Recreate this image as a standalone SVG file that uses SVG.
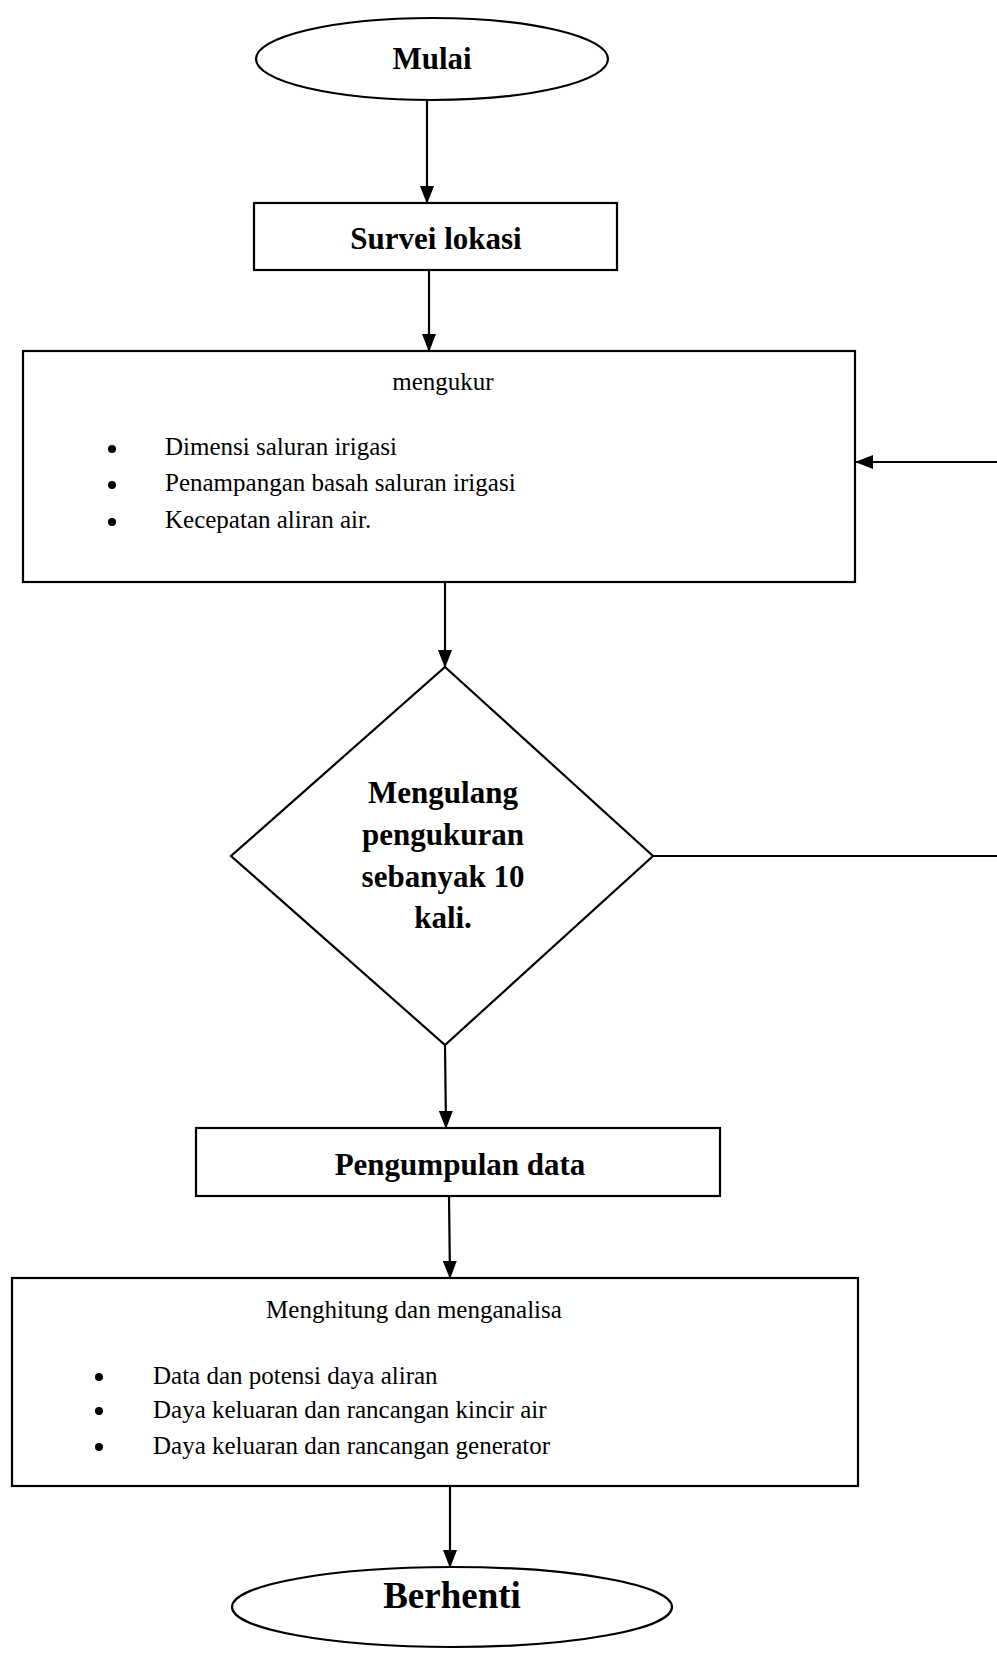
<svg xmlns="http://www.w3.org/2000/svg" width="997" height="1653" viewBox="0 0 997 1653">
<defs>
<marker id="ah" markerWidth="18" markerHeight="14" refX="17" refY="7" orient="auto" markerUnits="userSpaceOnUse">
<path d="M0,0 L18,7 L0,14 Z" fill="#000"/>
</marker>
<style>
.shape{fill:#fff;stroke:#000;stroke-width:2.2}
.conn{fill:none;stroke:#000;stroke-width:2.2}
.b{font-family:"Liberation Serif","Times New Roman",serif;font-weight:bold;font-size:31px;fill:#000}
.r{font-family:"Liberation Serif","Times New Roman",serif;font-size:25px;fill:#000}
.dot{fill:#000}
</style>
</defs>
<rect width="997" height="1653" fill="#fff"/>
<g id="connectors">
<line class="conn" x1="427" y1="100" x2="427" y2="203" marker-end="url(#ah)"/>
<line class="conn" x1="429" y1="270" x2="429" y2="351" marker-end="url(#ah)"/>
<line class="conn" x1="997" y1="462" x2="856" y2="462" marker-end="url(#ah)"/>
<line class="conn" x1="445" y1="582" x2="445" y2="667" marker-end="url(#ah)"/>
<line class="conn" x1="653" y1="856" x2="997" y2="856"/>
<line class="conn" x1="445" y1="1045" x2="446" y2="1128" marker-end="url(#ah)"/>
<line class="conn" x1="449" y1="1196" x2="450" y2="1278" marker-end="url(#ah)"/>
<line class="conn" x1="450" y1="1486" x2="450" y2="1567" marker-end="url(#ah)"/>
</g>
<g id="mulai">
<ellipse class="shape" cx="432" cy="59" rx="176" ry="41"/>
<text class="b" x="432" y="69" text-anchor="middle">Mulai</text>
</g>
<g id="survei">
<rect class="shape" x="254" y="203" width="363" height="67"/>
<text class="b" x="436" y="249" text-anchor="middle">Survei lokasi</text>
</g>
<g id="mengukur">
<rect class="shape" x="23" y="351" width="832" height="231"/>
<text class="r" x="443" y="390" text-anchor="middle">mengukur</text>
<circle class="dot" cx="112" cy="449" r="4"/>
<circle class="dot" cx="112" cy="485" r="4"/>
<circle class="dot" cx="112" cy="522" r="4"/>
<text class="r" x="165" y="455">Dimensi saluran irigasi</text>
<text class="r" x="165" y="491">Penampangan basah saluran irigasi</text>
<text class="r" x="165" y="528">Kecepatan aliran air.</text>
</g>
<g id="ulang">
<polygon class="shape" points="445,667 653,856 445,1045 231,856"/>
<text class="b" x="443" y="803" text-anchor="middle">Mengulang</text>
<text class="b" x="443" y="845" text-anchor="middle">pengukuran</text>
<text class="b" x="443" y="887" text-anchor="middle">sebanyak 10</text>
<text class="b" x="443" y="928" text-anchor="middle">kali.</text>
</g>
<g id="pengumpulan">
<rect class="shape" x="196" y="1128" width="524" height="68"/>
<text class="b" x="460" y="1175" text-anchor="middle">Pengumpulan data</text>
</g>
<g id="menghitung">
<rect class="shape" x="12" y="1278" width="846" height="208"/>
<text class="r" x="414" y="1318" text-anchor="middle">Menghitung dan menganalisa</text>
<circle class="dot" cx="99" cy="1377" r="4"/>
<circle class="dot" cx="99" cy="1411" r="4"/>
<circle class="dot" cx="99" cy="1447" r="4"/>
<text class="r" x="153" y="1384">Data dan potensi daya aliran</text>
<text class="r" x="153" y="1418">Daya keluaran dan rancangan kincir air</text>
<text class="r" x="153" y="1454">Daya keluaran dan rancangan generator</text>
</g>
<g id="berhenti">
<ellipse class="shape" cx="452" cy="1607" rx="220" ry="40"/>
<text class="b" x="452" y="1608" text-anchor="middle" style="font-size:37px">Berhenti</text>
</g>
</svg>
